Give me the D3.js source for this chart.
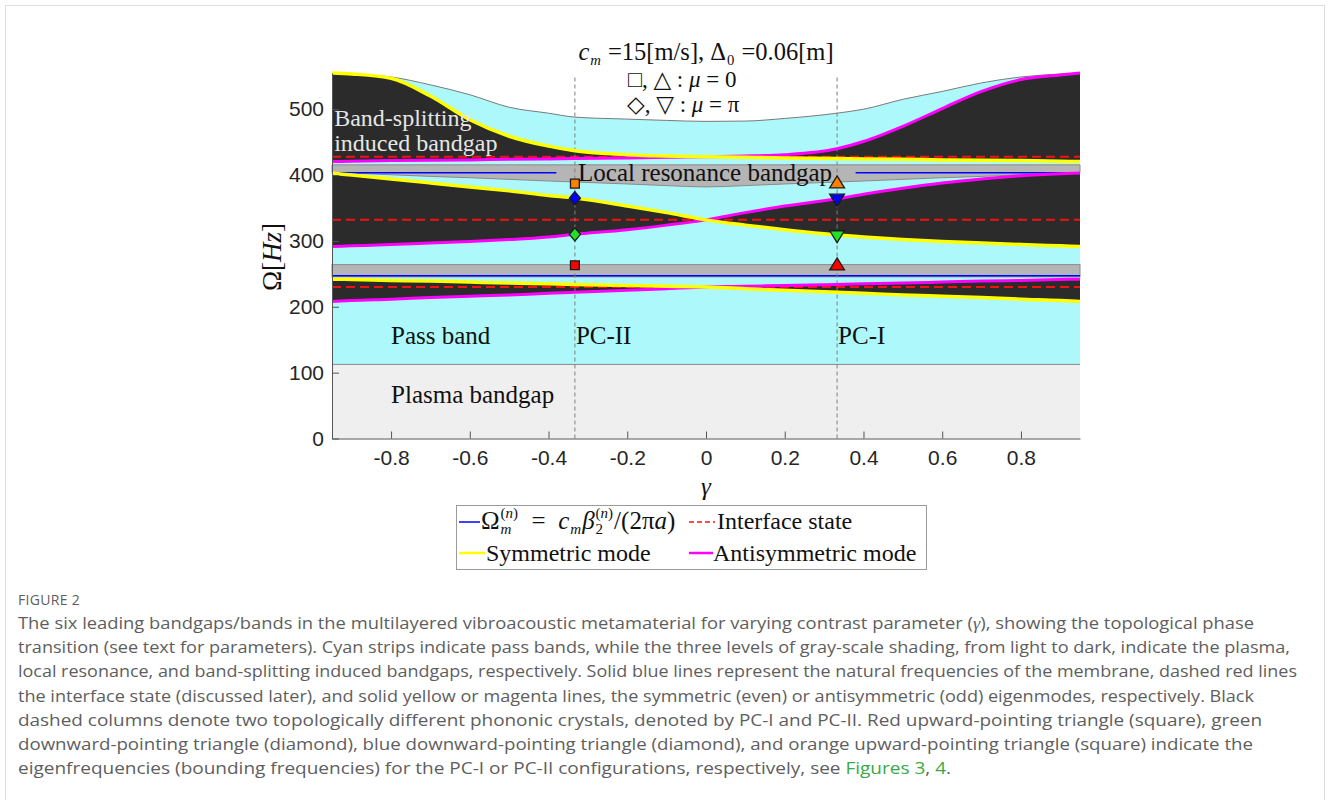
<!DOCTYPE html>
<html lang="en">
<head>
    <meta charset="UTF-8">
    <title>Bandgaps vs contrast parameter</title>
    <script src="https://d3js.org/d3.v7.min.js"></script>
    <style>
        body { margin: 0; background: #fff; }
        svg { display: block; }
        .serif { font-family: "Liberation Serif", "DejaVu Serif", serif; fill: #111; }
        .serif text { white-space: pre; }
        .tick text { font-family: "Liberation Sans", Arial, sans-serif; font-size: 21px; fill: #262626; }
        .caption { font-family: "Open Sans", "Noto Sans", sans-serif; fill: #5e5e5e; }
    </style>
</head>
<body>
<svg id="fig" width="1330" height="800"></svg>
<script>
    // contrast parameter grid and band edges (Hz)
    const gamma     = [-0.95, -0.9, -0.8, -0.7, -0.6, -0.5, -0.4, -0.333, -0.2, -0.1, 0, 0.1, 0.2, 0.333, 0.4, 0.5, 0.6, 0.7, 0.8, 0.9, 0.95];
    const symMode1  = [242, 241.5, 240, 239, 237.5, 236, 235, 234, 232.5, 231, 230, 227.5, 225, 222, 220.5, 218, 216, 214, 211.5, 209.5, 208];
    const antiMode1 = [208, 209.5, 211.5, 214, 216, 218, 220.5, 222, 225, 227.5, 230, 231, 232.5, 234, 235, 236, 237.5, 239, 240, 241.5, 242];
    const symMode2  = [403, 400, 394, 388, 382, 376, 369, 365, 353, 343, 332, 324, 317, 309, 306, 302, 299, 297, 294.5, 292.5, 291.5];
    const antiMode2 = [291.5, 292.5, 294.5, 297, 299, 302, 306, 310, 317, 324, 332, 343, 353, 364, 371, 380, 388, 394, 399, 402, 403];
    const symMode3  = [555, 553.5, 547, 520, 484, 459, 444, 437, 431, 429, 428, 427, 426, 425, 424.5, 424, 423, 422.5, 422, 421, 420.5];
    const antiMode3 = [420.5, 421, 422, 422.5, 423, 424, 424.5, 425, 426, 427, 428, 429, 431, 440, 451, 474, 501, 527, 545, 552, 555];
    const passTop   = [555, 553.5, 549, 537, 522, 503, 494, 488, 485, 483, 481.5, 482, 486, 494, 500, 515, 527, 540, 549, 553.5, 555];
    const lrGap2Low = [404, 403, 400.5, 398, 396, 393.5, 391, 389.5, 386.5, 384, 382, 384, 386.5, 389.5, 391, 393.5, 396, 398, 400.5, 403, 404];

    const plasmaTop = 112.5;
    const lrGap1 = [245.5, 264];
    const lrGap2Top = 415.5;
    const interfaceFreq = [230, 332, 428];
    const membraneFreq = [247, 403.5, 403.5];
    const membraneFrom = [-0.95, -0.95, 0.38];
    const membraneTo = [0.95, -0.38, 0.95];
    const pcGamma = [-0.333, 0.333];
    const pcNames = ["PC-II", "PC-I"];

    // bounding / eigen frequencies at PC-II and PC-I
    const markerGamma = [-0.333, -0.333, -0.333, -0.333, 0.333, 0.333, 0.333, 0.333];
    const markerFreq  = [387, 365, 310, 263, 388, 363.5, 308, 263.5];
    const markerLevel = [4, 3, 2, 1, 4, 3, 2, 1];
    const markerMu    = ["0", "π", "π", "0", "0", "π", "π", "0"];

    const xTicks = [-0.8, -0.6, -0.4, -0.2, 0, 0.2, 0.4, 0.6, 0.8];
    const yTicks = [0, 100, 200, 300, 400, 500];

    const CYAN = "#adf8fa", DARK = "#2b2b2b", LRGRAY = "#b5b5b5", PLASMA = "#efefef", EDGE = "#8a8a8a";
    const levelColor = d3.scaleOrdinal().domain([1, 2, 3, 4]).range(["#ff0000", "#22e022", "#0000ff", "#ff8000"]);

    const svg = d3.select("#fig");
    const x = d3.scaleLinear().domain([-0.95, 0.95]).range([332, 1080]);
    const y = d3.scaleLinear().domain([0, 555]).range([438.5, 73]);

    svg.append("rect").attr("x", 5.5).attr("y", 5.5).attr("width", 1319).attr("height", 900)
        .attr("fill", "none").attr("stroke", "#dcdcdc");

    const plot = svg.append("g");
    const band = (lo, hi) => d3.area()
        .x((d, i) => x(gamma[i]))
        .y0((d, i) => y(lo(i)))
        .y1((d, i) => y(hi(i)))
        .curve(d3.curveMonotoneX);
    const edgeLine = vals => d3.line()
        .x((d, i) => x(gamma[i]))
        .y((d, i) => y(vals[i]))
        .curve(d3.curveMonotoneX);

    // pass band background
    plot.append("path").datum(gamma).attr("d", band(() => plasmaTop, i => passTop[i])).attr("fill", CYAN);
    plot.append("path").datum(gamma).attr("d", edgeLine(passTop)).attr("fill", "none").attr("stroke", "#7a7a7a").attr("stroke-width", 1);

    // plasma bandgap
    plot.append("rect").attr("x", x(-0.95)).attr("width", x(0.95) - x(-0.95))
        .attr("y", y(plasmaTop)).attr("height", y(0) - y(plasmaTop)).attr("fill", PLASMA);
    plot.append("line").attr("x1", x(-0.95)).attr("x2", x(0.95)).attr("y1", y(plasmaTop)).attr("y2", y(plasmaTop))
        .attr("stroke", EDGE).attr("stroke-width", 1);

    // local resonance bandgaps
    plot.append("rect").attr("x", x(-0.95)).attr("width", x(0.95) - x(-0.95))
        .attr("y", y(lrGap1[1])).attr("height", y(lrGap1[0]) - y(lrGap1[1]))
        .attr("fill", LRGRAY).attr("stroke", EDGE).attr("stroke-width", 1);
    plot.append("path").datum(gamma).attr("d", band(i => lrGap2Low[i], () => lrGap2Top))
        .attr("fill", LRGRAY).attr("stroke", EDGE).attr("stroke-width", 1);

    // band-splitting bandgaps
    [[symMode1, antiMode1], [symMode2, antiMode2], [symMode3, antiMode3]].forEach(([s, a]) => {
        plot.append("path").datum(gamma).attr("d", band(i => s[i], i => a[i])).attr("fill", DARK);
    });

    // interface states
    interfaceFreq.forEach(f => {
        plot.append("line").attr("x1", x(-0.95)).attr("x2", x(0.95)).attr("y1", y(f)).attr("y2", y(f))
            .attr("stroke", "#ee1414").attr("stroke-width", 2).attr("stroke-dasharray", "9,5");
    });

    // membrane natural frequencies
    membraneFreq.forEach((f, i) => {
        plot.append("line").attr("x1", x(membraneFrom[i])).attr("x2", x(membraneTo[i])).attr("y1", y(f)).attr("y2", y(f))
            .attr("stroke", "#0000ff").attr("stroke-width", 1.5);
    });

    // PC columns
    pcGamma.forEach(g => {
        plot.append("line").attr("x1", x(g)).attr("x2", x(g)).attr("y1", y(0)).attr("y2", y(550))
            .attr("stroke", "#7f7f7f").attr("stroke-width", 1).attr("stroke-dasharray", "4,3");
    });

    // symmetric / antisymmetric modes
    [antiMode1, antiMode2, antiMode3].forEach(a => {
        plot.append("path").datum(gamma).attr("d", edgeLine(a)).attr("fill", "none").attr("stroke", "#ff00ff").attr("stroke-width", 3);
    });
    [symMode1, symMode2, symMode3].forEach(s => {
        plot.append("path").datum(gamma).attr("d", edgeLine(s)).attr("fill", "none").attr("stroke", "#ffff00").attr("stroke-width", 3.5);
    });

    // markers
    const shapes = {
        square: { draw(c, s) { const r = Math.sqrt(s) / 2; c.rect(-r, -r, 2 * r, 2 * r); } },
        diamond: { draw(c, s) { const r = Math.sqrt(s) * 0.7; c.moveTo(0, -r); c.lineTo(r * 0.85, 0); c.lineTo(0, r); c.lineTo(-r * 0.85, 0); c.closePath(); } },
        up: { draw(c, s) { const r = Math.sqrt(s) * 0.75; c.moveTo(0, -r); c.lineTo(r * 1.05, r * 0.7); c.lineTo(-r * 1.05, r * 0.7); c.closePath(); } },
        down: { draw(c, s) { const r = Math.sqrt(s) * 0.75; c.moveTo(0, r); c.lineTo(r * 1.05, -r * 0.7); c.lineTo(-r * 1.05, -r * 0.7); c.closePath(); } }
    };
    const shapeOf = i => markerGamma[i] < 0 ? (markerMu[i] === "0" ? "square" : "diamond") : (markerMu[i] === "0" ? "up" : "down");
    plot.selectAll(".mk").data(markerFreq).enter().append("path")
        .attr("class", "mk")
        .attr("transform", (d, i) => `translate(${x(markerGamma[i])},${y(d)})`)
        .attr("d", (d, i) => d3.symbol().type(shapes[shapeOf(i)]).size(shapeOf(i) === "square" ? 78 : 88)())
        .attr("fill", (d, i) => levelColor(markerLevel[i]))
        .attr("stroke", "#1a1a1a").attr("stroke-width", 1.3);

    // axes
    const xAxis = d3.axisBottom(x).tickValues(xTicks).tickSizeInner(-7).tickSizeOuter(0).tickPadding(12)
        .tickFormat(d => d === 0 ? "0" : d3.format(".1f")(d).replace("−", "-"));
    const yAxis = d3.axisLeft(y).tickValues(yTicks).tickSizeInner(-7).tickSizeOuter(0).tickPadding(8);
    const gx = svg.append("g").attr("transform", `translate(0,${y(0)})`).call(xAxis);
    const gy = svg.append("g").attr("transform", `translate(${x(-0.95)},0)`).call(yAxis);
    [gx, gy].forEach(g => {
        g.select(".domain").attr("stroke", "#555");
        g.selectAll(".tick line").attr("stroke", "#555");
        g.attr("font-size", null).attr("font-family", null);
    });

    // math text helper: pieces laid out left to right, scripts stacked
    function addText(g, px, py, size, pieces) {
        const t = g.append("text").attr("x", px).attr("y", py).attr("font-size", size);
        pieces.forEach(([s, it]) => t.append("tspan").attr("font-style", it ? "italic" : "normal").text(s));
        return t.node().getComputedTextLength();
    }
    function mathRun(g, x0, y0, size, parts) {
        let cx = x0;
        parts.forEach(p => {
            if (p.t !== undefined) {
                cx += addText(g, cx, y0, size, [[p.t, p.it]]);
            } else {
                const s = size * 0.6;
                let w = 0;
                if (p.sup) w = Math.max(w, addText(g, cx + 1, y0 - size * 0.46, s, p.sup));
                if (p.sub) w = Math.max(w, addText(g, cx + 1, y0 + size * 0.2, s, p.sub));
                cx += w + 2;
            }
        });
        return cx - x0;
    }

    // annotations inside the plot
    const ann = svg.append("g").attr("class", "serif").attr("font-size", 24);
    ann.append("text").attr("x", x(-0.947) + 1).attr("y", y(474)).style("fill", "#e6e6e6").text("Band-splitting");
    ann.append("text").attr("x", x(-0.947) + 1).attr("y", y(437)).style("fill", "#e6e6e6").text("induced bandgap");
    ann.append("text").attr("x", x(-0.325)).attr("y", y(390.5)).attr("font-size", 25).text("Local resonance bandgap");
    ann.append("text").attr("x", x(-0.8)).attr("y", y(143.5)).attr("font-size", 25).text("Pass band");
    ann.append("text").attr("x", x(-0.8)).attr("y", y(54)).attr("font-size", 25).text("Plasma bandgap");
    pcGamma.forEach((g, i) => ann.append("text").attr("x", x(g) + 1).attr("y", y(143.5)).attr("font-size", 25).text(pcNames[i]));

    // title
    const t1 = svg.append("g").attr("class", "serif");
    const w1 = mathRun(t1, 0, 60, 24.5, [{ t: "c", it: true }, { sub: [["m", true]] }, { t: " =15[m/s], Δ" }, { sub: [["0", false]] }, { t: " =0.06[m]" }]);
    t1.attr("transform", `translate(${706 - w1 / 2},0)`);
    const t2 = svg.append("g").attr("class", "serif");
    mathRun(t2, 628, 87, 23, [{ t: "□, △ : " }, { t: "μ", it: true }, { t: " = 0" }]);
    const t3 = svg.append("g").attr("class", "serif");
    mathRun(t3, 627, 112, 23, [{ t: "◇, ▽ : " }, { t: "μ", it: true }, { t: " = π" }]);

    // axis labels
    const yl = svg.append("g").attr("class", "serif").attr("transform", "translate(281,257) rotate(-90)");
    const wy = mathRun(yl, 0, 0, 27, [{ t: "Ω[" }, { t: "Hz", it: true }, { t: "]" }]);
    yl.selectAll("text").attr("transform", `translate(${-wy / 2},0)`);
    svg.append("text").attr("class", "serif").attr("x", 706).attr("y", 495).attr("text-anchor", "middle")
        .attr("font-size", 25).attr("font-style", "italic").text("γ");

    // legend
    const lg = svg.append("g").attr("class", "serif");
    lg.append("rect").attr("x", 456.5).attr("y", 505.5).attr("width", 470).attr("height", 64)
        .attr("fill", "#fff").attr("stroke", "#9a9a9a");
    lg.append("line").attr("x1", 459).attr("x2", 480).attr("y1", 522).attr("y2", 522).attr("stroke", "#0000ff").attr("stroke-width", 1.5);
    const nSup = [["(", false], ["n", true], [")", false]];
    mathRun(lg, 481, 529, 25, [{ t: "Ω" }, { sup: nSup, sub: [["m", true]] }, { t: "  =  " }, { t: "c", it: true },
        { sub: [["m", true]] }, { t: "β", it: true }, { sup: nSup, sub: [["2", false]] }, { t: "/(2π" }, { t: "a", it: true }, { t: ")" }]);
    lg.append("line").attr("x1", 689).attr("x2", 715).attr("y1", 522).attr("y2", 522).attr("stroke", "#ee1414")
        .attr("stroke-width", 1.5).attr("stroke-dasharray", "5,3");
    lg.append("text").attr("x", 717).attr("y", 529).attr("font-size", 24).text("Interface state");
    lg.append("line").attr("x1", 459).attr("x2", 485).attr("y1", 553).attr("y2", 553).attr("stroke", "#ffff00").attr("stroke-width", 2.5);
    lg.append("text").attr("x", 486).attr("y", 561).attr("font-size", 24).text("Symmetric mode");
    lg.append("line").attr("x1", 689).attr("x2", 713).attr("y1", 553).attr("y2", 553).attr("stroke", "#ff00ff").attr("stroke-width", 2.5);
    lg.append("text").attr("x", 713).attr("y", 561).attr("font-size", 24).text("Antisymmetric mode");

    // caption
    const cap = svg.append("g").attr("class", "caption");
    cap.append("text").attr("x", 18).attr("y", 605).attr("font-size", 14).attr("letter-spacing", 0.3).text("FIGURE 2");
    const capLines = [
        ["The six leading bandgaps/bands in the multilayered vibroacoustic metamaterial for varying contrast parameter (", "γ", "), showing the topological phase"],
        ["transition (see text for parameters). Cyan strips indicate pass bands, while the three levels of gray-scale shading, from light to dark, indicate the plasma,"],
        ["local resonance, and band-splitting induced bandgaps, respectively. Solid blue lines represent the natural frequencies of the membrane, dashed red lines"],
        ["the interface state (discussed later), and solid yellow or magenta lines, the symmetric (even) or antisymmetric (odd) eigenmodes, respectively. Black"],
        ["dashed columns denote two topologically different phononic crystals, denoted by PC-I and PC-II. Red upward-pointing triangle (square), green"],
        ["downward-pointing triangle (diamond), blue downward-pointing triangle (diamond), and orange upward-pointing triangle (square) indicate the"],
        ["eigenfrequencies (bounding frequencies) for the PC-I or PC-II configurations, respectively, see ", "Figures 3", ", ", "4", "."]
    ];
    const capWidth = [1236, 1272, 1279, 1236, 1244, 1235, 933];
    capLines.forEach((parts, i) => {
        const t = cap.append("text").attr("x", 18).attr("y", 629 + i * 24.2).attr("font-size", 16)
            .attr("textLength", capWidth[i]).attr("lengthAdjust", "spacingAndGlyphs");
        parts.forEach((p, j) => {
            const ts = t.append("tspan").text(p);
            if (i === 0 && j === 1) ts.attr("font-family", "Liberation Serif, serif").attr("font-style", "italic");
            if (i === 6 && (j === 1 || j === 3)) ts.style("fill", "#3aa845");
        });
    });
</script>
</body>
</html>
